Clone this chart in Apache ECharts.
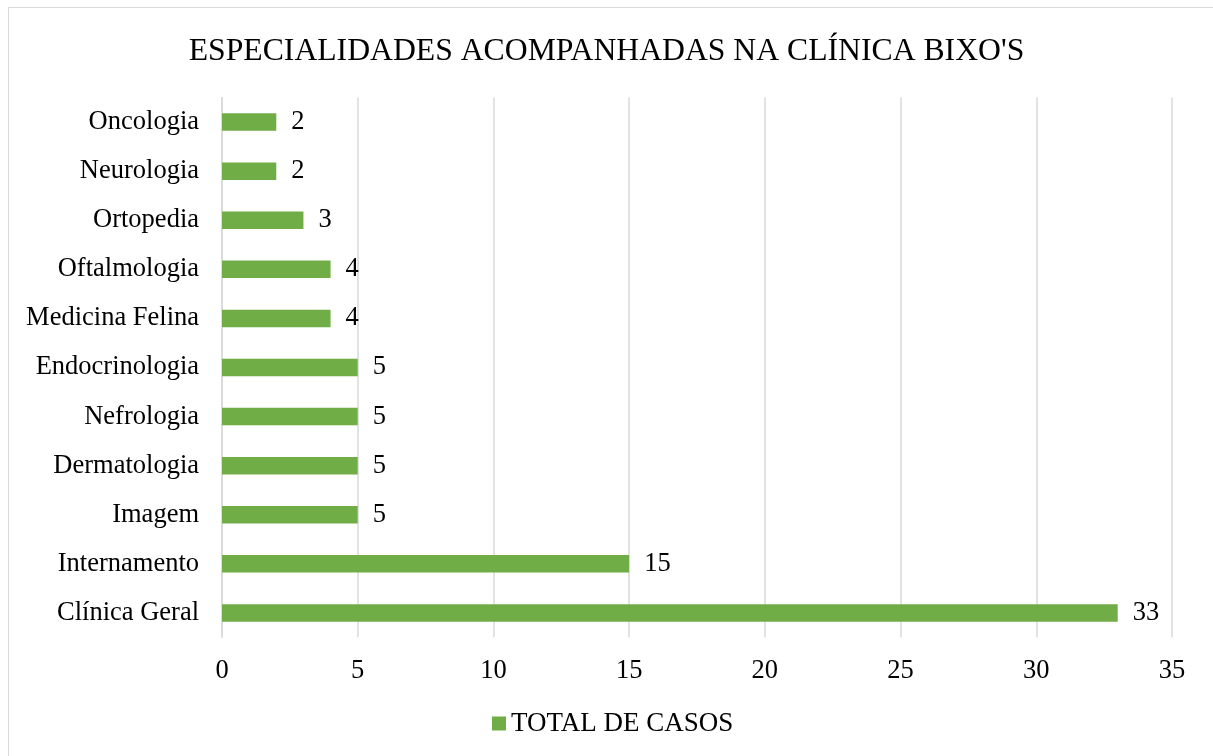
<!DOCTYPE html>
<html>
<head>
<meta charset="utf-8">
<script src="https://cdn.jsdelivr.net/npm/echarts@6/dist/echarts.min.js"></script>
<style>
  html, body { margin: 0; padding: 0; background: #fff; }
  #chart_box { width: 1213px; height: 756px; }
</style>
</head>
<body>
<div id="chart_box"></div>
<script>
// dados (de baixo para cima, como no eixo)
var categorias = ['Clínica Geral', 'Internamento', 'Imagem', 'Dermatologia', 'Nefrologia',
  'Endocrinologia', 'Medicina Felina', 'Oftalmologia', 'Ortopedia', 'Neurologia', 'Oncologia'];
var totalCasos = [33, 15, 5, 5, 5, 5, 4, 4, 3, 2, 2];
var nomeSerie = 'TOTAL DE CASOS';
var titulo = "ESPECIALIDADES ACOMPANHADAS NA CLÍNICA BIXO'S";

var fonte = '"Liberation Serif", "Times New Roman", serif';
var myChart = echarts.init(document.getElementById('chart_box'));

myChart.setOption({
  animation: false,
  textStyle: { fontFamily: fonte },
  graphic: [{
    type: 'rect',
    shape: { x: 8.5, y: 7.5, width: 1220, height: 760 },
    style: { fill: 'none', stroke: '#D9D9D9', lineWidth: 1 }
  }],
  title: {
    text: titulo,
    left: 'center',
    top: 31,
    textStyle: { fontFamily: fonte, fontSize: 31.7, fontWeight: 'normal', color: '#000' }
  },
  legend: {
    data: [nomeSerie],
    bottom: 14,
    left: 487,
    icon: 'rect',
    itemWidth: 14,
    itemHeight: 14,
    itemGap: 6,
    textStyle: { fontFamily: fonte, fontSize: 27, color: '#000' }
  },
  grid: {
    left: 222,
    right: 41,
    top: 97.5,
    bottom: 118.5,
    containLabel: false
  },
  xAxis: {
    type: 'value',
    min: 0,
    max: 35,
    interval: 5,
    axisLine: { show: false },
    axisTick: { show: false },
    splitLine: { show: true, lineStyle: { color: '#D9D9D9', width: 1.5 } },
    axisLabel: { fontFamily: fonte, fontSize: 26.5, color: '#000', margin: 20 }
  },
  yAxis: {
    type: 'category',
    data: categorias,
    axisLine: { show: true, lineStyle: { color: '#D9D9D9', width: 1.5 } },
    axisTick: { show: false },
    axisLabel: { fontFamily: fonte, fontSize: 26.5, color: '#000', margin: 23 }
  },
  series: [{
    name: nomeSerie,
    type: 'bar',
    data: totalCasos,
    barWidth: 17.5,
    itemStyle: { color: '#70AD47' },
    label: {
      show: true,
      position: 'right',
      distance: 15,
      fontFamily: fonte,
      fontSize: 26.5,
      color: '#000'
    }
  }]
});
</script>
</body>
</html>
